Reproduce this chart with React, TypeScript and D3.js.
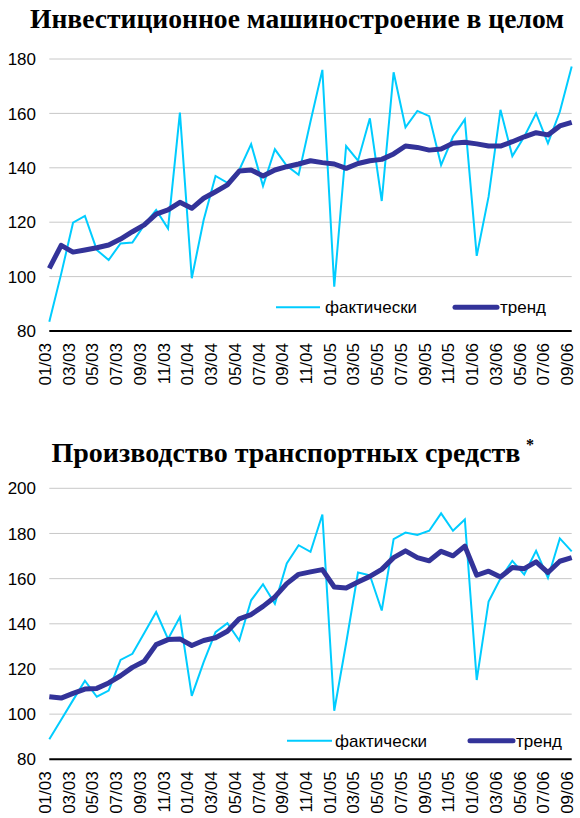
import React, { useEffect, useRef } from 'react'
import * as d3 from 'd3'

// months 01/03 .. 09/06
const months: string[] = []
for (let y = 3; y <= 6; y++) {
  for (let m = 1; m <= 12; m++) {
    if (y === 6 && m > 9) break
    months.push(`${String(m).padStart(2, '0')}/0${y}`)
  }
}

const investActual = [
  83.4, 101, 119.8, 122.3, 109.8, 106.1, 112.2, 112.5, 119, 124.5, 117.7, 160.3,
  99.4, 120.8, 137, 134.5, 139.2, 148.7, 133.3, 146.8, 140.7, 137.4, 157, 176,
  96.3, 148, 142.6, 158.2, 127.8, 175.1, 154.9, 160.9, 159, 141, 151.4, 157.8,
  107.6, 129.4, 161.3, 144.3, 151.4, 160, 149, 160.6, 177.2
]
const investTrend = [
  103, 111.5, 109, 109.8, 110.6, 111.6, 113.8, 116.5, 119, 123, 124.5, 127.3,
  125.1, 128.8, 131.2, 133.7, 138.8, 139.2, 137, 139.2, 140.4, 141.4, 142.6, 141.9,
  141.4, 139.8, 141.6, 142.6, 143.1, 145.1, 148, 147.5, 146.5, 146.9, 149, 149.4,
  148.8, 148, 148, 149.6, 151.4, 152.9, 152.1, 155.4, 156.7
]

const transportActual = [
  88.9, 97.5, 106.2, 114.8, 107.7, 110.4, 124, 126.7, 135.9, 145.2, 133.3, 143,
  108.1, 123, 136.3, 140.3, 132.6, 150.4, 157.5, 148.9, 166.7, 174.8, 171.9, 188.4,
  101.5, 131.4, 162.7, 161.5, 145.9, 177.5, 180.4, 179.3, 181.2, 188.9, 181.2, 186.2,
  115.1, 149.9, 160, 167.9, 161.8, 172.3, 160.3, 177.8, 172.1
]
const transportTrend = [
  107.7, 107.1, 109.2, 111.1, 111.4, 113.8, 117, 120.7, 123.4, 130.8, 133, 133.3,
  130.4, 132.6, 133.8, 136.7, 142.2, 144.1, 147.7, 151.9, 157.8, 161.9, 163, 164,
  156.3, 155.9, 158.5, 161, 164.1, 169.3, 172.3, 169.3, 167.9, 172.1, 170.1, 174.4,
  161.5, 163.3, 160.7, 164.9, 164.4, 167.4, 162.7, 167.7, 169.3
]

const investTicks = [80, 100, 120, 140, 160, 180]
const transportTicks = [80, 100, 120, 140, 160, 180, 200]

const CYAN = '#00ccff'
const NAVY = '#333399'
const SANS = '"Liberation Sans", Arial, sans-serif'
const SERIF = '"Liberation Serif", "Times New Roman", serif'

interface Legend {
  y: number
  actualLine: [number, number]
  actualText: number
  trendLine: [number, number]
  trendText: number
}

interface PanelCfg {
  actual: number[]
  trend: number[]
  ticks: number[]
  top: number
  bottom: number
  legend: Legend
}

function drawPanel(svg: d3.Selection<SVGSVGElement, unknown, null, undefined>, cfg: PanelCfg) {
  const left = 49.3
  const right = 571.7
  const x = d3.scalePoint<string>().domain(months).range([left, right])
  const y = d3
    .scaleLinear()
    .domain([cfg.ticks[0], cfg.ticks[cfg.ticks.length - 1]])
    .range([cfg.bottom, cfg.top])

  const g = svg.append('g')

  g.selectAll('line.grid')
    .data(cfg.ticks.slice(1))
    .enter()
    .append('line')
    .attr('class', 'grid')
    .attr('x1', left)
    .attr('x2', right)
    .attr('y1', (d) => y(d))
    .attr('y2', (d) => y(d))
    .attr('stroke', '#c8c8c8')
    .attr('stroke-width', 1)

  g.selectAll('text.ytick')
    .data(cfg.ticks)
    .enter()
    .append('text')
    .attr('class', 'ytick')
    .attr('x', 36)
    .attr('y', (d) => y(d))
    .attr('dy', '0.36em')
    .attr('text-anchor', 'end')
    .attr('font-family', SANS)
    .attr('font-size', 17)
    .attr('fill', '#000')
    .text((d) => d)

  const labels = months.filter((_, i) => i % 2 === 0)
  g.selectAll('text.xtick')
    .data(labels)
    .enter()
    .append('text')
    .attr('class', 'xtick')
    .attr('transform', (d) => `translate(${(x(d) ?? 0) + 1.5},${cfg.bottom + 12}) rotate(-90)`)
    .attr('text-anchor', 'end')
    .attr('font-family', SANS)
    .attr('font-size', 17)
    .attr('fill', '#000')
    .text((d) => d)

  const line = d3
    .line<number>()
    .x((_, i) => x(months[i]) ?? 0)
    .y((d) => y(d))

  g.append('path')
    .datum(cfg.actual)
    .attr('d', line)
    .attr('fill', 'none')
    .attr('stroke', CYAN)
    .attr('stroke-width', 2)
    .attr('stroke-linejoin', 'miter')

  g.append('path')
    .datum(cfg.trend)
    .attr('d', line)
    .attr('fill', 'none')
    .attr('stroke', NAVY)
    .attr('stroke-width', 5)
    .attr('stroke-linejoin', 'round')

  g.append('line')
    .attr('x1', left)
    .attr('x2', right)
    .attr('y1', cfg.bottom)
    .attr('y2', cfg.bottom)
    .attr('stroke', '#000')
    .attr('stroke-width', 2)

  // legend
  const L = cfg.legend
  const lg = g.append('g').attr('transform', `translate(0,${L.y})`)
  lg.append('line')
    .attr('x1', L.actualLine[0])
    .attr('x2', L.actualLine[1])
    .attr('stroke', CYAN)
    .attr('stroke-width', 2)
  lg.append('text')
    .attr('x', L.actualText)
    .attr('dy', '0.36em')
    .attr('font-family', SANS)
    .attr('font-size', 17)
    .text('фактически')
  lg.append('line')
    .attr('x1', L.trendLine[0])
    .attr('x2', L.trendLine[1])
    .attr('stroke', NAVY)
    .attr('stroke-width', 5)
    .attr('stroke-linecap', 'round')
  lg.append('text')
    .attr('x', L.trendText)
    .attr('dy', '0.36em')
    .attr('font-family', SANS)
    .attr('font-size', 17)
    .text('тренд')
}

export default function App() {
  const ref = useRef<SVGSVGElement | null>(null)

  useEffect(() => {
    if (!ref.current) {
      return
    }
    const svg = d3.select(ref.current)
    svg.selectAll('*').remove()

    svg.append('text')
      .attr('x', 297)
      .attr('y', 28)
      .attr('text-anchor', 'middle')
      .attr('font-family', SERIF)
      .attr('font-weight', 'bold')
      .attr('font-size', 27.6)
      .text('Инвестиционное машиностроение в целом')

    svg.append('text')
      .attr('x', 286)
      .attr('y', 462)
      .attr('text-anchor', 'middle')
      .attr('font-family', SERIF)
      .attr('font-weight', 'bold')
      .attr('font-size', 28)
      .text('Производство транспортных средств')

    svg.append('text')
      .attr('x', 530)
      .attr('y', 450)
      .attr('text-anchor', 'middle')
      .attr('font-family', SERIF)
      .attr('font-weight', 'bold')
      .attr('font-size', 16)
      .text('*')

    drawPanel(svg, {
      actual: investActual,
      trend: investTrend,
      ticks: investTicks,
      top: 59,
      bottom: 331,
      legend: { y: 307.3, actualLine: [276, 320], actualText: 325, trendLine: [455, 497], trendText: 500 }
    })

    drawPanel(svg, {
      actual: transportActual,
      trend: transportTrend,
      ticks: transportTicks,
      top: 488.3,
      bottom: 759.3,
      legend: { y: 740.7, actualLine: [287, 332], actualText: 335, trendLine: [470, 513], trendText: 516 }
    })
  }, [])

  return (
    <div style={{ position: 'absolute', left: 0, top: 0 }}>
      <svg ref={ref} width={580} height={818} style={{ display: 'block', background: '#fff' }} />
    </div>
  )
}
